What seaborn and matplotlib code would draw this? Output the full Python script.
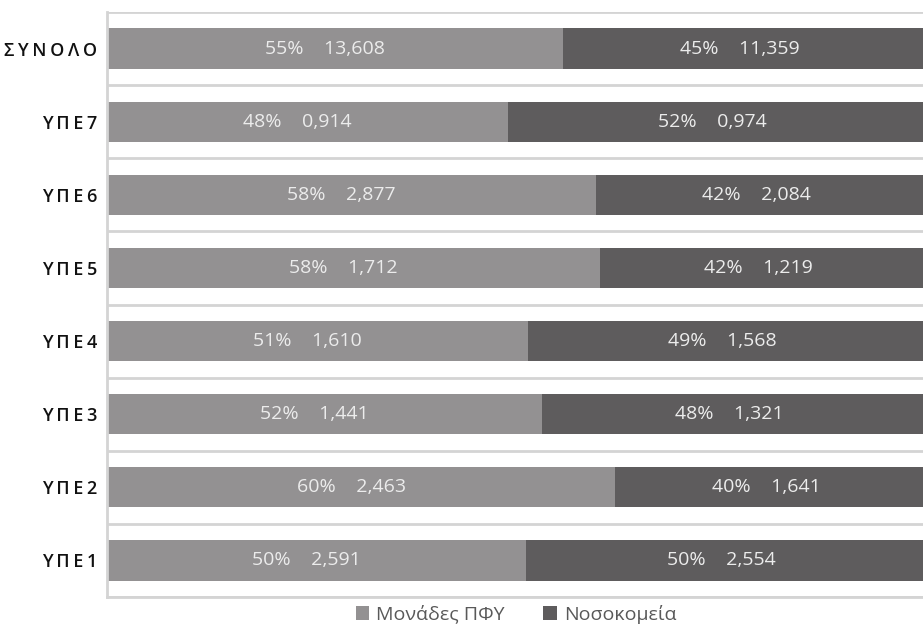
import matplotlib
matplotlib.use("Agg")
import matplotlib.pyplot as plt
import matplotlib.transforms as mtransforms
import seaborn as sns
import pandas as pd
from matplotlib.patches import Patch

categories = ["ΣΥΝΟΛΟ", "ΥΠΕ7", "ΥΠΕ6", "ΥΠΕ5", "ΥΠΕ4", "ΥΠΕ3", "ΥΠΕ2", "ΥΠΕ1"]
# bar shares as drawn (percent of bar length)
pfy_share = [55.9, 49.1, 59.9, 60.4, 51.6, 53.3, 62.3, 51.3]
hosp_share = [44.1, 50.9, 40.1, 39.6, 48.4, 46.7, 37.7, 48.7]
# label texts
pfy_pct = [55, 48, 58, 58, 51, 52, 60, 50]
hosp_pct = [45, 52, 42, 42, 49, 48, 40, 50]
pfy_val = ["13,608", "0,914", "2,877", "1,712", "1,610", "1,441", "2,463", "2,591"]
hosp_val = ["11,359", "0,974", "2,084", "1,219", "1,568", "1,321", "1,641", "2,554"]
series = ["Μονάδες ΠΦΥ", "Νοσοκομεία"]

c_light = "#939192"
c_dark = "#5e5c5d"
fam = ["Open Sans", "DejaVu Sans"]

df = pd.DataFrame({
    "cat": categories,
    "pfy": pfy_share,
    "total": [a + b for a, b in zip(pfy_share, hosp_share)],
})

fig = plt.figure(figsize=(9.23, 6.28), dpi=100)
ax = fig.add_axes([107 / 923, 1 - 597 / 628, (923 - 107) / 923, (597 - 12) / 628])

sns.barplot(data=df, x="total", y="cat", order=categories, color=c_dark,
            width=0.55, orient="h", ax=ax, saturation=1, edgecolor="none")
sns.barplot(data=df, x="pfy", y="cat", order=categories, color=c_light,
            width=0.55, orient="h", ax=ax, saturation=1, edgecolor="none")

ax.set_xlim(0, 100)
ax.set_ylim(len(categories) - 0.5, -0.5)
for b in range(len(categories) + 1):
    ax.axhline(b - 0.5, color="#d4d4d4", lw=2, zorder=0)

tr_left = mtransforms.offset_copy(ax.transData, fig=fig, x=-7, y=0, units="points")
tr_right = mtransforms.offset_copy(ax.transData, fig=fig, x=-2, y=0, units="points")
for i in range(len(categories)):
    ax.text(pfy_share[i] / 2, i, f"{pfy_pct[i]}%    {pfy_val[i]}", ha="center", va="center",
            color="#ececec", fontsize=14, family=fam, transform=tr_left)
    ax.text(pfy_share[i] + hosp_share[i] / 2, i, f"{hosp_pct[i]}%    {hosp_val[i]}", ha="center",
            va="center", color="#ececec", fontsize=14, family=fam, transform=tr_right)

tick_labels = ["\u2009".join(list(c)) for c in categories]
ax.set_yticks(range(len(categories)))
ax.set_yticklabels(tick_labels, fontsize=13, family=fam, color="#111111", fontweight="semibold")
ax.tick_params(axis="y", length=0, pad=7)
ax.set_xticks([])
ax.set_xlabel("")
ax.set_ylabel("")
for s in ["top", "right"]:
    ax.spines[s].set_visible(False)
for s in ["left", "bottom"]:
    ax.spines[s].set_color("#d4d4d4")
    ax.spines[s].set_linewidth(2)

handles = [Patch(facecolor=c_light, label=series[0]), Patch(facecolor=c_dark, label=series[1])]
fig.legend(handles=handles, loc="center", bbox_to_anchor=(516 / 923, 1 - 614 / 628), ncol=2,
           frameon=False, prop={"family": fam, "size": 14}, labelcolor="#595959",
           handlelength=0.7, handleheight=0.7, handletextpad=0.35, columnspacing=2.0)

fig.savefig("out.png", dpi=100)
